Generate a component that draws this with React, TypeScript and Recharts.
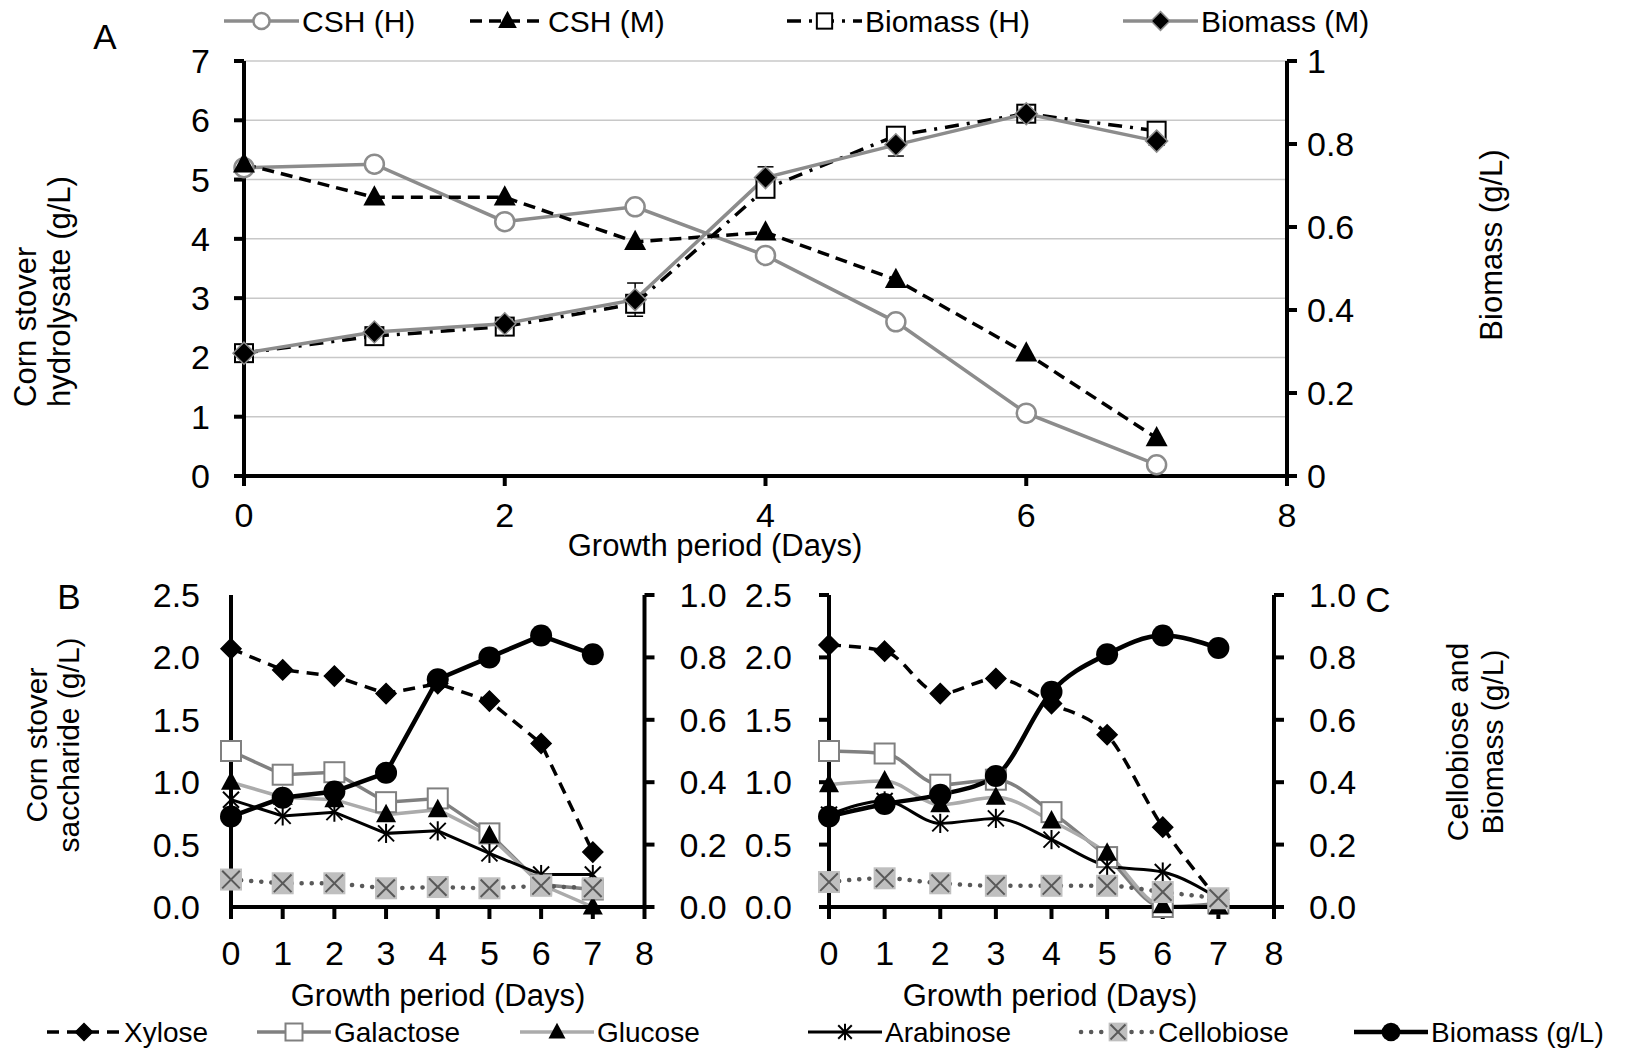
import React from "react";
import { LineChart, Line, XAxis, YAxis, CartesianGrid, ErrorBar } from "recharts";

const FONT = '"Liberation Sans", Arial, sans-serif';

// ---- data ----
const days = [0, 1, 2, 3, 4, 5, 6, 7];

// panel A
const cshH = [5.2, 5.26, 4.29, 4.54, 3.72, 2.6, 1.06, 0.19];
const cshM = [5.26, 4.7, 4.7, 3.95, 4.11, 3.31, 2.07, 0.64];
const bmH = [0.296, 0.337, 0.36, 0.415, 0.692, 0.82, 0.873, 0.832];
const bmM = [0.296, 0.347, 0.367, 0.425, 0.719, 0.798, 0.873, 0.807];
const bmMErr = [0.02, 0.01, 0.01, 0.04, 0.026, 0.027, 0.01, 0.01];

// panel B
const xylB = [2.07, 1.9, 1.85, 1.71, 1.79, 1.65, 1.31, 0.44];
const galB = [1.25, 1.06, 1.08, 0.84, 0.87, 0.59, 0.18, 0.14];
const gluB = [1.0, 0.88, 0.86, 0.74, 0.78, 0.57, 0.18, 0.0];
const araB = [0.86, 0.73, 0.76, 0.59, 0.61, 0.43, 0.26, 0.26];
const celB = [0.22, 0.19, 0.19, 0.15, 0.16, 0.15, 0.17, 0.15];
const bioB = [0.29, 0.35, 0.37, 0.43, 0.73, 0.8, 0.87, 0.81];

// panel C
const xylC = [2.1, 2.05, 1.71, 1.83, 1.63, 1.38, 0.64, 0.06];
const galC = [1.25, 1.23, 0.98, 1.02, 0.76, 0.4, 0.0, 0.03];
const gluC = [0.98, 1.01, 0.82, 0.88, 0.69, 0.43, 0.01, 0.0];
const araC = [0.74, 0.85, 0.67, 0.71, 0.54, 0.33, 0.28, 0.07];
const celC = [0.2, 0.23, 0.19, 0.17, 0.17, 0.17, 0.12, 0.07];
const bioC = [0.29, 0.33, 0.36, 0.42, 0.69, 0.81, 0.87, 0.83];

const xTicksA = [0, 2, 4, 6, 8];
const xTicksBC = [0, 1, 2, 3, 4, 5, 6, 7, 8];
const yTicksA = [0, 1, 2, 3, 4, 5, 6, 7];
const yTicksBio = [0, 0.2, 0.4, 0.6, 0.8, 1];
const yTicksSugar = [0, 0.5, 1, 1.5, 2, 2.5];

const dataA = days.map((d, i) => ({ day: d, cshH: cshH[i], cshM: cshM[i], bmH: bmH[i], bmM: bmM[i], bmMErr: bmMErr[i] }));
const dataB = days.map((d, i) => ({ day: d, xyl: xylB[i], gal: galB[i], glu: gluB[i], ara: araB[i], cel: celB[i], bio: bioB[i] }));
const dataC = days.map((d, i) => ({ day: d, xyl: xylC[i], gal: galC[i], glu: gluC[i], ara: araC[i], cel: celC[i], bio: bioC[i] }));

// ---- markers ----
type Shape = "openCircle" | "triangle" | "openSquare" | "diamond" | "asterisk" | "crossBox" | "disc";
interface Marker { shape: Shape; size: number; fill: string; stroke: string }

function drawMarker(m: Marker, cx: number, cy: number, key?: string) {
  const s = m.size / 2;
  switch (m.shape) {
    case "openCircle":
      return <circle key={key} cx={cx} cy={cy} r={s} fill={m.fill} stroke={m.stroke} strokeWidth={2.5} />;
    case "disc":
      return <circle key={key} cx={cx} cy={cy} r={s} fill={m.fill} />;
    case "triangle":
      return <polygon key={key} points={`${cx},${cy - s * 1.1} ${cx + s},${cy + s * 0.75} ${cx - s},${cy + s * 0.75}`} fill={m.fill} />;
    case "openSquare":
      return <rect key={key} x={cx - s} y={cy - s} width={2 * s} height={2 * s} fill={m.fill} stroke={m.stroke} strokeWidth={2} />;
    case "diamond":
      return <polygon key={key} points={`${cx},${cy - s} ${cx + s},${cy} ${cx},${cy + s} ${cx - s},${cy}`} fill={m.fill} stroke={m.stroke} strokeWidth={1.5} />;
    case "asterisk":
      return (
        <g key={key} stroke={m.stroke} strokeWidth={2}>
          <line x1={cx - s} y1={cy - s} x2={cx + s} y2={cy + s} />
          <line x1={cx - s} y1={cy + s} x2={cx + s} y2={cy - s} />
          <line x1={cx} y1={cy - s * 1.2} x2={cx} y2={cy + s * 1.2} />
        </g>
      );
    case "crossBox":
      return (
        <g key={key}>
          <rect x={cx - s} y={cy - s} width={2 * s} height={2 * s} fill={m.fill} />
          <line x1={cx - s * 0.8} y1={cy - s * 0.8} x2={cx + s * 0.8} y2={cy + s * 0.8} stroke={m.stroke} strokeWidth={2} />
          <line x1={cx - s * 0.8} y1={cy + s * 0.8} x2={cx + s * 0.8} y2={cy - s * 0.8} stroke={m.stroke} strokeWidth={2} />
        </g>
      );
  }
  return null;
}

interface Series {
  key: string;
  name: string;
  axis: "left" | "right";
  stroke: string;
  width: number;
  dash?: string;
  cap?: "round" | "butt";
  marker: Marker;
}

const seriesA: Series[] = [
  { key: "cshH", name: "CSH (H)", axis: "left", stroke: "#8c8c8c", width: 3.5, marker: { shape: "openCircle", size: 19, fill: "#fff", stroke: "#8c8c8c" } },
  { key: "cshM", name: "CSH (M)", axis: "left", stroke: "#000", width: 3.5, dash: "12 7", marker: { shape: "triangle", size: 22, fill: "#000", stroke: "#000" } },
  { key: "bmH", name: "Biomass (H)", axis: "right", stroke: "#000", width: 3.5, dash: "14 8 3 8", marker: { shape: "openSquare", size: 18, fill: "#fff", stroke: "#000" } },
  { key: "bmM", name: "Biomass (M)", axis: "right", stroke: "#8c8c8c", width: 3.5, marker: { shape: "diamond", size: 22, fill: "#000", stroke: "#8c8c8c" } },
];

const seriesSugar: Series[] = [
  { key: "xyl", name: "Xylose", axis: "left", stroke: "#000", width: 3.5, dash: "12 8", marker: { shape: "diamond", size: 20, fill: "#000", stroke: "#000" } },
  { key: "gal", name: "Galactose", axis: "left", stroke: "#808080", width: 3.5, marker: { shape: "openSquare", size: 20, fill: "#fff", stroke: "#808080" } },
  { key: "glu", name: "Glucose", axis: "left", stroke: "#ababab", width: 3.5, marker: { shape: "triangle", size: 20, fill: "#000", stroke: "#000" } },
  { key: "ara", name: "Arabinose", axis: "left", stroke: "#000", width: 3, marker: { shape: "asterisk", size: 16, fill: "#000", stroke: "#000" } },
  { key: "cel", name: "Cellobiose", axis: "left", stroke: "#595959", width: 4.5, dash: "0.1 10", cap: "round", marker: { shape: "crossBox", size: 22, fill: "#bfbfbf", stroke: "#595959" } },
  { key: "bio", name: "Biomass  (g/L)", axis: "right", stroke: "#000", width: 4.5, marker: { shape: "disc", size: 22, fill: "#000", stroke: "#000" } },
];

const tickStyle = { fontSize: 34, fill: "#000", fontFamily: FONT };
const axisLine = { stroke: "#000", strokeWidth: 4 };
const tickLine = { stroke: "#000", strokeWidth: 4 };

function renderLines(series: Series[], curve: "linear" | "monotone") {
  return series.map((s) => (
    <Line
      key={s.key}
      yAxisId={s.axis}
      dataKey={s.key}
      name={s.name}
      type={curve}
      stroke={s.stroke}
      strokeWidth={s.width}
      strokeDasharray={s.dash}
      strokeLinecap={s.cap ?? "butt"}
      isAnimationActive={false}
      activeDot={false}
      dot={(p: any) =>
        p.cx == null || p.cy == null ? <g key={`${s.key}-${p.index}`} /> : drawMarker(s.marker, p.cx, p.cy, `${s.key}-${p.index}`)
      }
    >
      {s.key === "bmM" ? <ErrorBar dataKey="bmMErr" direction="y" width={8} stroke="#000" strokeWidth={1.5} /> : null}
    </Line>
  ));
}

function LegendRow({ series, xs, y, fontSize, iconW }: { series: Series[]; xs: number[]; y: number; fontSize: number; iconW: number }) {
  return (
    <g>
      {series.map((s, i) => {
        const x = xs[i];
        return (
          <g key={s.key}>
            <line x1={x} y1={y} x2={x + iconW} y2={y} stroke={s.stroke} strokeWidth={s.width} strokeDasharray={s.dash} strokeLinecap={s.cap ?? "butt"} />
            {drawMarker({ ...s.marker, size: s.marker.size * 0.85 }, x + iconW / 2, y)}
            <text x={x + iconW + 3} y={y + fontSize * 0.36} fontSize={fontSize} fontFamily={FONT} fill="#000">
              {s.name}
            </text>
          </g>
        );
      })}
    </g>
  );
}

function SugarPanel({ data, curve, leftMargin, rightMargin, width, leftTickMargin, leftTickLine }: any) {
  return (
    <LineChart width={width} height={420} data={data} margin={{ top: 35, right: rightMargin, bottom: 23, left: leftMargin }}>
      <XAxis dataKey="day" type="number" domain={[0, 8]} ticks={xTicksBC} tick={tickStyle} axisLine={axisLine} tickLine={tickLine} tickSize={12} tickMargin={22} height={50} />
      <YAxis yAxisId="left" orientation="left" domain={[0, 2.5]} ticks={yTicksSugar} tickFormatter={(v: number) => v.toFixed(1)} tick={tickStyle} axisLine={axisLine} tickLine={leftTickLine ? tickLine : false} tickSize={10} tickMargin={leftTickMargin} width={80} />
      <YAxis yAxisId="right" orientation="right" domain={[0, 1]} ticks={yTicksBio} tickFormatter={(v: number) => v.toFixed(1)} tick={tickStyle} axisLine={axisLine} tickLine={tickLine} tickSize={10} tickMargin={25} width={80} />
      {renderLines(seriesSugar, curve)}
    </LineChart>
  );
}

export default function App() {
  const txt = { fontFamily: FONT, fill: "#000" };
  return (
    <div style={{ position: "relative", width: 1646, height: 1051, background: "#fff", overflow: "hidden" }}>
      <style>{"body{margin:0}"}</style>

      <div style={{ position: "absolute", left: 0, top: 0 }}>
        <LineChart width={1646} height={560} data={dataA} margin={{ top: 61, right: 259, bottom: 24, left: 144 }}>
          <CartesianGrid yAxisId="left" vertical={false} stroke="#c8c8c8" strokeWidth={1.5} />
          <XAxis dataKey="day" type="number" domain={[0, 8]} ticks={xTicksA} tick={tickStyle} axisLine={axisLine} tickLine={tickLine} tickSize={10} tickMargin={17} height={60} />
          <YAxis yAxisId="left" orientation="left" domain={[0, 7]} ticks={yTicksA} tick={tickStyle} axisLine={axisLine} tickLine={tickLine} tickSize={10} tickMargin={24} width={100} />
          <YAxis yAxisId="right" orientation="right" domain={[0, 1]} ticks={yTicksBio} tick={tickStyle} axisLine={axisLine} tickLine={tickLine} tickSize={10} tickMargin={10} width={100} />
          {renderLines(seriesA, "linear")}
        </LineChart>
      </div>

      <div style={{ position: "absolute", left: 0, top: 560 }}>
        <SugarPanel data={dataB} curve="linear" width={760} leftMargin={151} rightMargin={35.5} leftTickMargin={21} leftTickLine={false} />
      </div>

      <div style={{ position: "absolute", left: 700, top: 560 }}>
        <SugarPanel data={dataC} curve="monotone" width={800} leftMargin={49} rightMargin={146} leftTickMargin={27} leftTickLine={true} />
      </div>

      <svg width={1646} height={1051} style={{ position: "absolute", left: 0, top: 0, pointerEvents: "none" }}>
        {/* panel A texts */}
        <text x={105} y={49} fontSize={35} textAnchor="middle" {...txt}>A</text>
        <LegendRow series={seriesA} xs={[224, 470, 787, 1123]} y={21} fontSize={30} iconW={75} />
        <g fontSize={31} {...txt}>
          <text x={36} y={407} transform="rotate(-90 36 407)">Corn stover</text>
          <text x={70} y={407} transform="rotate(-90 70 407)">hydrolysate (g/L)</text>
          <text x={1502} y={245} textAnchor="middle" transform="rotate(-90 1502 245)">Biomass (g/L)</text>
          <text x={715} y={556} textAnchor="middle">Growth period (Days)</text>
        </g>

        {/* panel B/C texts */}
        <text x={69} y={609} fontSize={35} textAnchor="middle" {...txt}>B</text>
        <text x={1378} y={612} fontSize={35} textAnchor="middle" {...txt}>C</text>
        <g fontSize={30} {...txt}>
          <text x={47} y={745} textAnchor="middle" transform="rotate(-90 47 745)">Corn stover</text>
          <text x={79} y={745} textAnchor="middle" transform="rotate(-90 79 745)">saccharide (g/L)</text>
          <text x={1468} y={742} textAnchor="middle" transform="rotate(-90 1468 742)">Cellobiose and</text>
          <text x={1503} y={742} textAnchor="middle" transform="rotate(-90 1503 742)">Biomass (g/L)</text>
        </g>
        <g fontSize={31} {...txt}>
          <text x={438} y={1006} textAnchor="middle">Growth period (Days)</text>
          <text x={1050} y={1006} textAnchor="middle">Growth period (Days)</text>
        </g>
        <LegendRow series={seriesSugar} xs={[47, 257, 520, 808, 1081, 1354]} y={1032} fontSize={28} iconW={74} />
      </svg>
    </div>
  );
}
